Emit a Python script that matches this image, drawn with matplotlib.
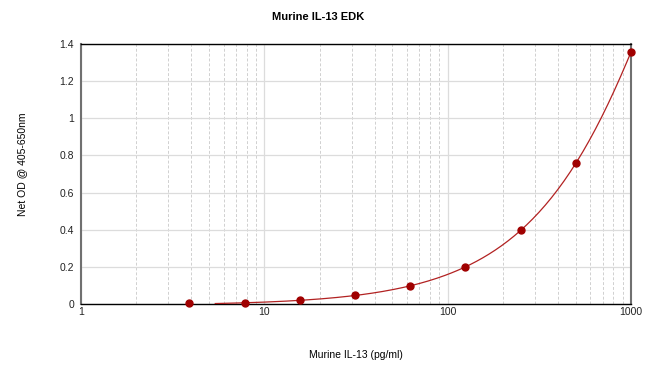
import numpy as np
import matplotlib
matplotlib.use('agg')
import matplotlib.pyplot as plt
from matplotlib.ticker import FixedLocator, LogLocator, NullFormatter

plt.rcParams['font.family'] = ['Liberation Sans', 'DejaVu Sans']

# standard concentrations (pg/ml) and measured OD
conc = [3.9, 7.8, 15.6, 31.25, 62.5, 125, 250, 500, 1000]
od = [0.003, 0.005, 0.02, 0.048, 0.097, 0.199, 0.398, 0.757, 1.357]

xticks = [1, 10, 100, 1000]
xticklabels = ['1', '10', '100', '1000']
yticks = [0, 0.2, 0.4, 0.6, 0.8, 1.0, 1.2, 1.4]
yticklabels = ['0', '0.2', '0.4', '0.6', '0.8', '1', '1.2', '1.4']

# fitted standard curve (quadratic fit on the points)
coef = np.polyfit(conc[1:], od[1:], 2)
xfit = np.logspace(np.log10(5.4), np.log10(1000), 200)
yfit = np.polyval(coef, xfit)

fig = plt.figure(figsize=(6.5, 3.81), dpi=100)
ax = fig.add_axes([0.1246, 0.2021, 0.8462, 0.6824])

ax.set_xscale('log')
ax.set_xlim(1, 1000)
ax.set_ylim(0, 1.4)

ax.plot(xfit, yfit, color='#b22222', lw=0.9, zorder=3)
ax.plot(conc, od, 'o', color='#a00000', ms=5, zorder=4, clip_on=False)

ax.xaxis.set_major_locator(FixedLocator(xticks))
ax.set_xticklabels(xticklabels)
ax.xaxis.set_minor_locator(LogLocator(base=10, subs=np.arange(2, 10)))
ax.xaxis.set_minor_formatter(NullFormatter())
ax.set_yticks(yticks)
ax.set_yticklabels(yticklabels)

ax.grid(True, which='major', axis='y', color='#dcdcdc', lw=0.9)
ax.grid(True, which='major', axis='x', color='#dcdcdc', lw=0.9)
ax.grid(True, which='minor', axis='x', color='#d0d0d0', lw=0.7, ls=(0, (3, 2)))
ax.set_axisbelow(True)

ax.tick_params(axis='both', which='both', length=0, labelsize=7.5, colors='#222222')
ax.tick_params(axis='x', pad=2)
ax.tick_params(axis='y', pad=5)

for s in ['bottom', 'top']:
    ax.spines[s].set_color('black')
    ax.spines[s].set_linewidth(1.0)
for s in ['left', 'right']:
    ax.spines[s].set_color('#707070')
    ax.spines[s].set_linewidth(1.5)

fig.text(0.489, 0.955, 'Murine IL-13 EDK', ha='center', va='center',
         fontsize=8, fontweight='bold')
fig.text(0.548, 0.068, 'Murine IL-13 (pg/ml)', ha='center', va='center',
         fontsize=7.5)
fig.text(0.034, 0.57, 'Net OD @ 405-650nm', ha='center', va='center',
         fontsize=7.5, rotation=90)

fig.savefig('out.png', dpi=100)
